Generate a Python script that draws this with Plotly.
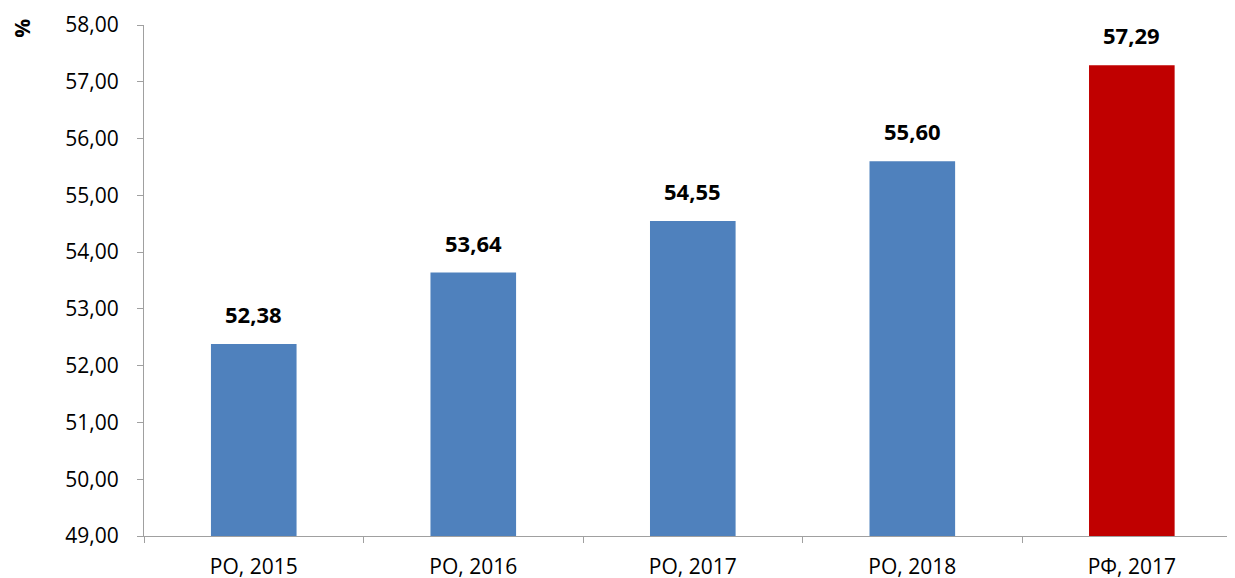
import plotly.graph_objects as go

categories = ["РО, 2015", "РО, 2016", "РО, 2017", "РО, 2018", "РФ, 2017"]
values = [52.38, 53.64, 54.55, 55.60, 57.29]
colors = ["#4F81BD", "#4F81BD", "#4F81BD", "#4F81BD", "#C00000"]
y_ticks = [49, 50, 51, 52, 53, 54, 55, 56, 57, 58]

font_family = "Open Sans, Noto Sans, sans-serif"

fig = go.Figure()
fig.add_trace(go.Bar(
    x=categories, y=values, marker=dict(color=colors, line=dict(width=0)),
    width=0.39, hoverinfo="skip",
))

for c, v in zip(categories, values):
    fig.add_annotation(
        x=c, y=v, text="<b>" + f"{v:.2f}".replace(".", ",") + "</b>",
        showarrow=False, yanchor="bottom", yshift=13,
        font=dict(size=22, color="black", family=font_family),
    )

fig.add_annotation(
    xref="paper", yref="paper", x=-0.112, y=0.994, xanchor="center", yanchor="middle",
    text="<b>%</b>",
    showarrow=False, textangle=-90, font=dict(size=21, color="black", family=font_family),
)

fig.update_layout(
    width=1235, height=578,
    margin=dict(l=136, r=8, t=17, b=50),
    plot_bgcolor="white", paper_bgcolor="white",
    separators=", ",
    showlegend=False,
    font=dict(family=font_family, size=21, color="black"),
)
fig.update_xaxes(
    range=[-0.5, 4.47], automargin=False,
    showline=True, linecolor="#A0A0A0", linewidth=1,
    ticks="outside", tickson="boundaries", ticklen=6, tickcolor="#A0A0A0",
    tickfont=dict(size=21), showgrid=False,
    ticklabelstandoff=12,
)
fig.update_yaxes(
    range=[49, 58], tickvals=y_ticks, tickformat=".2f", automargin=False,
    showline=True, linecolor="#A0A0A0", linewidth=1,
    ticks="outside", ticklen=6, tickcolor="#A0A0A0",
    tickfont=dict(size=21), showgrid=False, zeroline=False,
    ticklabelstandoff=14,
)

fig.write_html("out.html")
